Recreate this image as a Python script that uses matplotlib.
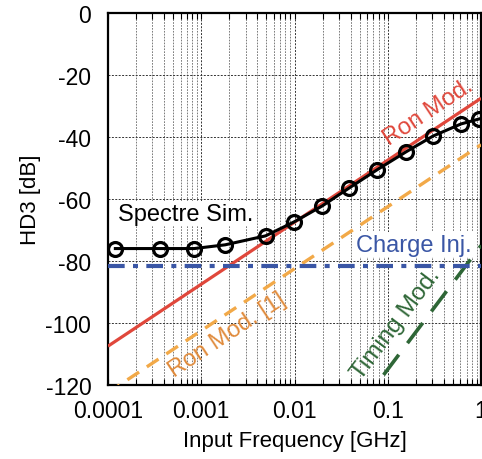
import numpy as np
import matplotlib
matplotlib.use("Agg")
import matplotlib.pyplot as plt
from matplotlib.ticker import LogLocator, FixedLocator, NullFormatter

plt.rcParams['font.family'] = ['Liberation Sans', 'DejaVu Sans']

# Spectre simulation
sim_freq = [0.00012, 0.00036, 0.00084, 0.0018, 0.0049, 0.0099, 0.0197, 0.0384, 0.0767, 0.157, 0.306, 0.61, 0.95]
sim_hd3 = [-76.0, -76.0, -76.0, -74.8, -71.9, -67.4, -62.3, -56.5, -50.6, -44.8, -39.7, -35.8, -34.2]

# model lines: endpoints (frequency, dB)
ron_freq = [0.0001, 1.0]
ron_hd3 = [-107.5, -27.5]
ron1_freq = [0.0001, 1.0]
ron1_hd3 = [-122.5, -42.5]
timing_freq = [0.05, 1.0]
timing_hd3 = [-127.0, -75.0]
charge_freq = [0.0001, 1.0]
charge_hd3 = [-81.6, -81.6]

xticks = [0.0001, 0.001, 0.01, 0.1, 1]
xticklabels = ['0.0001', '0.001', '0.01', '0.1', '1']
yticks = [0, -20, -40, -60, -80, -100, -120]

fig = plt.figure(figsize=(4.82, 4.60), dpi=100)
ax = fig.add_axes([0.224, 0.161, 0.774, 0.8086])

red = '#e0473b'
orange = '#f2a948'
blue = '#3a56a5'
green = '#2e6636'

ax.plot(ron_freq, ron_hd3, color=red, lw=2.3, solid_capstyle='butt', zorder=3)
ax.plot(ron1_freq, ron1_hd3, color=orange, lw=2.4, linestyle=(0, (4.2, 2.8)), zorder=3)
ax.plot(timing_freq, timing_hd3, color=green, lw=2.6, linestyle=(0, (7.0, 4.0)), zorder=3)
ax.plot(charge_freq, charge_hd3, color=blue, lw=3.0, linestyle=(0, (4.0, 2.0, 1.2, 2.0)), zorder=3)
ax.plot(sim_freq, sim_hd3, color='black', lw=2.2, marker='o', markersize=10,
        markerfacecolor='none', markeredgewidth=2.3, markeredgecolor='black', zorder=5)

ax.set_xscale('log')
ax.set_xlim(0.0001, 1)
ax.set_ylim(-120, 0)
ax.xaxis.set_major_locator(FixedLocator(xticks))
ax.set_xticks(xticks)
ax.set_xticklabels(xticklabels)
ax.xaxis.set_minor_locator(LogLocator(base=10, subs=np.arange(2, 10), numticks=20))
ax.xaxis.set_minor_formatter(NullFormatter())
ax.set_yticks(yticks)
ax.set_yticklabels([str(v) for v in yticks])

ax.grid(True, which='major', axis='both', color='#333333', lw=0.7, linestyle=(0, (2, 1.5)), zorder=0)
ax.grid(True, which='minor', axis='x', color='#666666', lw=0.6, linestyle=(0, (2, 1.5)), zorder=0)
ax.set_axisbelow(True)

ax.tick_params(axis='both', which='both', direction='in', labelsize=16.5, pad=10,
               top=True, right=True, length=4, width=0.8)
ax.tick_params(axis='y', which='major', length=0, pad=12)
for s in ax.spines.values():
    s.set_linewidth(1.6)

ax.set_xlabel('Input Frequency [GHz]', fontsize=16, labelpad=6)
ax.set_ylabel('HD3 [dB]', fontsize=16, labelpad=3)

ax.text(10**-3.163, -64.8, 'Spectre Sim.', fontsize=17, color='black', ha='center', va='center',
        bbox=dict(facecolor='white', edgecolor='none', pad=1), zorder=4)
ax.text(10**-0.718, -74.8, 'Charge Inj.', fontsize=17, color=blue, ha='center', va='center',
        bbox=dict(facecolor='white', edgecolor='none', pad=1), zorder=4)
ax.text(10**-0.57, -31.8, 'Ron Mod.', fontsize=17, color=red, ha='center', va='center',
        rotation=33.6, rotation_mode='anchor', zorder=4)
ax.text(10**-2.72, -103.8, 'Ron Mod. [1]', fontsize=17, color='#e08a3a', ha='center', va='center',
        rotation=33.6, rotation_mode='anchor', zorder=4)
ax.text(10**-0.91, -100.3, 'Timing Mod.', fontsize=17.5, color=green, ha='center', va='center',
        rotation=53, rotation_mode='anchor', zorder=4)

fig.savefig('out.png', dpi=100)
